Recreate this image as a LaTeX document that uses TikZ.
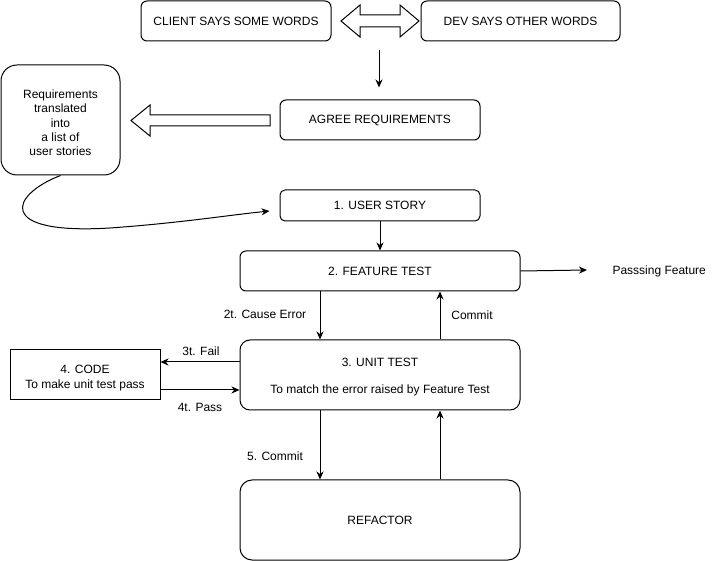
\documentclass[tikz,border=0pt]{standalone}
\usepackage{fontspec}
\setmainfont{Liberation Sans}
\usetikzlibrary{arrows.meta}
\begin{document}
\begin{tikzpicture}[x=1pt,y=-1pt,line width=1pt,
  every node/.style={font=\fontsize{12}{14}\selectfont},
  box/.style={draw,inner sep=0pt,align=center,rounded corners=#1},
  box/.default=6pt,
  plain/.style={draw,inner sep=0pt,align=center},
  lbl/.style={inner sep=0pt},
  txt/.style={inner sep=0pt,align=center},
  arr/.style={-{Stealth[length=8pt,width=7pt,inset=2.5pt]}},
  blockarrow/.style={draw,fill=white,line join=miter}]
\useasboundingbox (0,0) rectangle (721,561);

% boxes
\node[box,minimum width=190pt,minimum height=40pt] (client) at (236,21) {\raisebox{-1pt}{CLIENT SAYS SOME WORDS}};
\node[box,minimum width=199pt,minimum height=40pt] (dev) at (520.5,21) {\raisebox{-1pt}{DEV SAYS OTHER WORDS}};
\node[box,minimum width=200pt,minimum height=40pt] (agree) at (380,120) {\raisebox{-1.5pt}{AGREE REQUIREMENTS}};
\node[box=16pt,minimum width=119pt,minimum height=110pt] (req) at (60.5,120) {};
\node[txt,font=\fontsize{12}{14.3}\selectfont] (reqtext) at (60.5,123)
  {Requirements\\translated\\into\\a list of\\user stories};
\node[box=5pt,minimum width=200pt,minimum height=31pt] (story) at (380,205.5) {\raisebox{-1pt}{1. USER STORY}};
\node[box,minimum width=280pt,minimum height=40pt] (ft) at (380,271) {\raisebox{-1pt}{2. FEATURE TEST}};
\node[box=10pt,minimum width=280pt,minimum height=70pt] (ut) at (380,375) {};
\node[lbl] (uttitle) at (380,362) {3. UNIT TEST};
\node[lbl] (utnote) at (380,390) {To match the error raised by Feature Test};
\node[plain,minimum width=150pt,minimum height=50pt] (code) at (85,375) {};
\node[txt,font=\fontsize{12}{15}\selectfont] (codetext) at (85,378) {4. CODE\\To make unit test pass};
\node[box=12pt,minimum width=280pt,minimum height=80pt] (ref) at (380,520) {\raisebox{-1.5pt}{REFACTOR}};
\node[lbl,anchor=west] (pf) at (612,271) {Passsing Feature};

% two-way block arrow between the conversations
\draw[blockarrow] (341,21) -- (360,5) -- (360,15) -- (400,15) -- (400,5) -- (419,21)
  -- (400,37) -- (400,27) -- (360,27) -- (360,37) -- cycle;
% block arrow from the agreement to the user stories
\draw[blockarrow] (131,120.5) -- (150,105) -- (150,115) -- (270,115) -- (270,126)
  -- (150,126) -- (150,136) -- cycle;

% connectors
\coordinate (talk) at (379,50);
\draw[arr] (talk) -- ([xshift=-1pt,yshift=12pt]agree.north);
\draw[arr] (req.south) .. controls (10,195) and (-5,235) .. (110,228)
  .. controls (180,223) and (230,215) .. ([xshift=-10pt,yshift=-5.5pt]story.west);
\draw[arr] (story.south) -- (ft.north);
\draw[arr] (ft.east) -- ([xshift=-25pt,yshift=1pt]pf.west);
\draw[arr] ([xshift=-60pt]ft.south) -- ([xshift=-60pt]ut.north);
\draw[arr] ([xshift=60pt]ut.north) -- ([xshift=60pt]ft.south);
\draw[arr] ([yshift=13pt]ut.west) -- ([yshift=13pt]ut.west -| code.east);
\draw[arr] ([yshift=-15pt]ut.west -| code.east) -- ([yshift=-15pt]ut.west);
\draw[arr] ([xshift=-60pt]ut.south) -- ([xshift=-60pt]ref.north);
\draw[arr] ([xshift=60pt]ref.north) -- ([xshift=60pt]ut.south);

% connector labels
\node[lbl] (l2t) at (265,314) {2t. Cause Error};
\node[lbl] (lcm) at (472,315) {Commit};
\node[lbl] (l3t) at (201,351) {3t. Fail};
\node[lbl] (l4t) at (200,407) {4t. Pass};
\node[lbl] (l5) at (275,456) {5. Commit};
\end{tikzpicture}
\end{document}
